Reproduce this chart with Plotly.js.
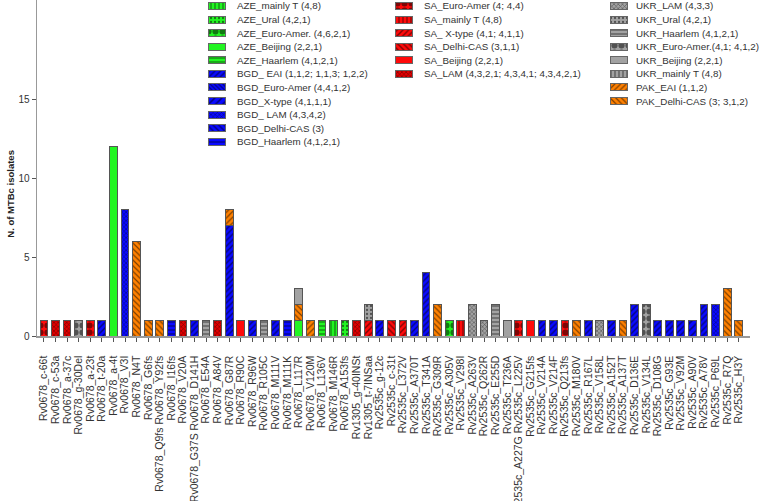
<!DOCTYPE html>
<html><head><meta charset="utf-8">
<script src="https://cdn.plot.ly/plotly-3.0.1.min.js"></script>
<style>html,body{margin:0;padding:0;background:#fff}#chart{width:760px;height:501px}</style>
</head><body><div id="chart"></div>
<script>
// ---------------- DATA ----------------
const categories = ["Rv0678_c-66t","Rv0678_c-53a","Rv0678_a-37c","Rv0678_g-30Del","Rv0678_a-23t","Rv0678_t-20a","Rv0678_a-4t","Rv0678_V3I","Rv0678_N4T","Rv0678_G6fs","Rv0678_Q9fs Rv0678_Y92fs","Rv0678_I16fs","Rv0678_V20A","Rv0678_G37S Rv0678_D141H","Rv0678_E54A","Rv0678_A84V","Rv0678_G87R","Rv0678_R90C","Rv0678_R96W","Rv0678_R105C","Rv0678_M111V","Rv0678_M111K","Rv0678_L117R","Rv0678_V120M","Rv0678_L136V","Rv0678_M146R","Rv0678_A153fs","Rv1305_g-40INSt","Rv1305_t-7INSaa","Rv2535c_g-12c","Rv2535c_c-31t","Rv2535c_L372V","Rv2535c_A370T","Rv2535c_T341A","Rv2535c_G309R","Rv2535c_A305V","Rv2535c_V298I","Rv2535c_A263V","Rv2535c_Q262R","Rv2535c_E255D","Rv2535c_T236A","Rv2535c_A227G Rv2535c_L225V","Rv2535c_G215fs","Rv2535c_V214A","Rv2535c_V214F","Rv2535c_Q213fs","Rv2535c_M180V","Rv2535c_R167L","Rv2535c_V158L","Rv2535c_A152T","Rv2535c_A137T","Rv2535c_D136E","Rv2535c_V134L","Rv2535c_D108G","Rv2535c_G93E","Rv2535c_V92M","Rv2535c_A90V","Rv2535c_A78V","Rv2535c_P69L","Rv2535c_R7Q","Rv2535c_H3Y"];

// mutation effect marker under each category: v = green down, ^ = red up, s = yellow square, "" = none
const markerType = ["","v","","","","v","v","v","v","^","^","v","v","v","","v","v","v","s","","v","s","v","v","v","v","v","","","v","v","v","v","v","v","v","","","","","v","","","v","v","","v","v","","v","","v","","v","v","v","v","v","v","v","v"];

const AZE_mainlyT_x = ["Rv0678_M146R"];  const AZE_mainlyT_y = [1];
const AZE_Ural_x = ["Rv0678_A153fs"];    const AZE_Ural_y = [1];
const AZE_EuroAmer_x = ["Rv2535c_A305V"]; const AZE_EuroAmer_y = [1];
const AZE_Beijing_x = ["Rv0678_a-4t","Rv0678_L117R"]; const AZE_Beijing_y = [12,1];
const AZE_Haarlem_x = ["Rv0678_L136V"];  const AZE_Haarlem_y = [1];

const BGD_EAI_x = ["Rv0678_t-20a","Rv0678_G37S Rv0678_D141H","Rv0678_G87R","Rv0678_R96W","Rv0678_M111V","Rv2535c_g-12c","Rv2535c_A370T","Rv2535c_T341A","Rv2535c_V214A","Rv2535c_V214F","Rv2535c_R167L","Rv2535c_A152T","Rv2535c_D136E","Rv2535c_D108G","Rv2535c_G93E","Rv2535c_V92M","Rv2535c_A78V"];
const BGD_EAI_y = [1,1,7,1,1,1,1,4,1,1,1,1,2,1,1,1,2];
const BGD_EuroAmer_x = [];               const BGD_EuroAmer_y = [];
const BGD_Xtype_x = ["Rv2535c_A90V"];    const BGD_Xtype_y = [1];
const BGD_LAM_x = ["Rv0678_V3I","Rv2535c_P69L"]; const BGD_LAM_y = [8,2];
const BGD_DelhiCAS_x = [];               const BGD_DelhiCAS_y = [];
const BGD_Haarlem_x = ["Rv0678_I16fs","Rv0678_M111K"]; const BGD_Haarlem_y = [1,1];

const SA_EuroAmer_x = ["Rv0678_c-66t","Rv0678_a-23t","Rv2535c_A227G Rv2535c_L225V","Rv2535c_Q213fs"]; const SA_EuroAmer_y = [1,1,1,1];
const SA_mainlyT_x = ["Rv2535c_V298I"];  const SA_mainlyT_y = [1];
const SA_Xtype_x = ["Rv1305_t-7INSaa","Rv2535c_L372V"]; const SA_Xtype_y = [1,1];
const SA_DelhiCAS_x = ["Rv2535c_c-31t"]; const SA_DelhiCAS_y = [1];
const SA_Beijing_x = ["Rv0678_R90C","Rv2535c_G215fs"]; const SA_Beijing_y = [1,1];
const SA_LAM_x = ["Rv0678_c-53a","Rv0678_a-37c","Rv0678_V20A","Rv0678_A84V","Rv1305_g-40INSt"]; const SA_LAM_y = [1,1,1,1,1];

const PAK_EAI_x = ["Rv0678_G87R","Rv0678_V120M"]; const PAK_EAI_y = [1,1];
const PAK_DelhiCAS_x = ["Rv0678_N4T","Rv0678_G6fs","Rv0678_Q9fs Rv0678_Y92fs","Rv0678_L117R","Rv2535c_G309R","Rv2535c_M180V","Rv2535c_A137T","Rv2535c_R7Q","Rv2535c_H3Y"];
const PAK_DelhiCAS_y = [6,1,1,1,2,1,1,3,1];

const UKR_LAM_x = ["Rv2535c_A263V","Rv2535c_Q262R","Rv2535c_V158L"]; const UKR_LAM_y = [2,1,1];
const UKR_Ural_x = ["Rv1305_t-7INSaa"];  const UKR_Ural_y = [1];
const UKR_Haarlem_x = ["Rv0678_E54A","Rv0678_R105C","Rv2535c_E255D"]; const UKR_Haarlem_y = [1,1,2];
const UKR_EuroAmer_x = ["Rv0678_g-30Del","Rv2535c_V134L"]; const UKR_EuroAmer_y = [1,2];
const UKR_Beijing_x = ["Rv0678_L117R","Rv2535c_T236A"]; const UKR_Beijing_y = [1,1];
const UKR_mainlyT_x = [];                const UKR_mainlyT_y = [];

// ---------------- STYLE ----------------
const GREEN = '#22f522', BLUE = '#0a0aff', RED = '#ff0a0a', GRAY = '#a2a2a2', ORANGE = '#ff8000';
const series = [
  {name:'AZE_mainly T (4,8)', x:AZE_mainlyT_x, y:AZE_mainlyT_y, c:GREEN, p:['|',4,0.3]},
  {name:'AZE_Ural (4,2,1)', x:AZE_Ural_x, y:AZE_Ural_y, c:GREEN, p:['.',4,0.25]},
  {name:'AZE_Euro-Amer. (4,6,2,1)', x:AZE_EuroAmer_x, y:AZE_EuroAmer_y, c:GREEN, p:['.',7,0.6]},
  {name:'AZE_Beijing (2,2,1)', x:AZE_Beijing_x, y:AZE_Beijing_y, c:GREEN, p:['',8,0.3]},
  {name:'AZE_Haarlem (4,1,2,1)', x:AZE_Haarlem_x, y:AZE_Haarlem_y, c:GREEN, p:['-',4,0.3]},
  {name:'BGD_ EAI (1,1,2; 1,1,3; 1,2,2)', x:BGD_EAI_x, y:BGD_EAI_y, c:BLUE, p:['/',4,0.35]},
  {name:'BGD_Euro-Amer (4,4,1,2)', x:BGD_EuroAmer_x, y:BGD_EuroAmer_y, c:BLUE, p:['\\',3,0.4]},
  {name:'BGD_X-type (4,1,1,1)', x:BGD_Xtype_x, y:BGD_Xtype_y, c:BLUE, p:['/',5,0.3]},
  {name:'BGD_ LAM (4,3,4,2)', x:BGD_LAM_x, y:BGD_LAM_y, c:BLUE, p:['x',3,0.35]},
  {name:'BGD_Delhi-CAS (3)', x:BGD_DelhiCAS_x, y:BGD_DelhiCAS_y, c:BLUE, p:['\\',4,0.35]},
  {name:'BGD_Haarlem (4,1,2,1)', x:BGD_Haarlem_x, y:BGD_Haarlem_y, c:BLUE, p:['-',4,0.3]},
  {name:'SA_Euro-Amer (4; 4,4)', x:SA_EuroAmer_x, y:SA_EuroAmer_y, c:RED, p:['.',7,0.6]},
  {name:'SA_mainly T (4,8)', x:SA_mainlyT_x, y:SA_mainlyT_y, c:RED, p:['|',4,0.3]},
  {name:'SA_ X-type (4,1; 4,1,1)', x:SA_Xtype_x, y:SA_Xtype_y, c:RED, p:['/',4,0.35]},
  {name:'SA_Delhi-CAS (3,1,1)', x:SA_DelhiCAS_x, y:SA_DelhiCAS_y, c:RED, p:['\\',4,0.35]},
  {name:'SA_Beijing (2,2,1)', x:SA_Beijing_x, y:SA_Beijing_y, c:RED, p:['',8,0.3]},
  {name:'SA_LAM (4,3,2,1; 4,3,4,1; 4,3,4,2,1)', x:SA_LAM_x, y:SA_LAM_y, c:'#e00000', p:['x',3,0.35]},
  {name:'PAK_EAI (1,1,2)', x:PAK_EAI_x, y:PAK_EAI_y, c:ORANGE, p:['/',4,0.3]},
  {name:'PAK_Delhi-CAS (3; 3,1,2)', x:PAK_DelhiCAS_x, y:PAK_DelhiCAS_y, c:ORANGE, p:['\\',4,0.3]},
  {name:'UKR_LAM (4,3,3)', x:UKR_LAM_x, y:UKR_LAM_y, c:GRAY, p:['x',3,0.35]},
  {name:'UKR_Ural (4,2,1)', x:UKR_Ural_x, y:UKR_Ural_y, c:GRAY, p:['.',4,0.25]},
  {name:'UKR_Haarlem (4,1,2,1)', x:UKR_Haarlem_x, y:UKR_Haarlem_y, c:GRAY, p:['-',4,0.3]},
  {name:'UKR_Euro-Amer.(4,1; 4,1,2)', x:UKR_EuroAmer_x, y:UKR_EuroAmer_y, c:GRAY, p:['.',7,0.6]},
  {name:'UKR_Beijing (2,2,1)', x:UKR_Beijing_x, y:UKR_Beijing_y, c:GRAY, p:['',8,0.3]},
  {name:'UKR_mainly T (4,8)', x:UKR_mainlyT_x, y:UKR_mainlyT_y, c:GRAY, p:['|',4,0.3]}
];
// legend order inside each column
const legendOrder = [
  ['AZE_mainly T (4,8)','AZE_Ural (4,2,1)','AZE_Euro-Amer. (4,6,2,1)','AZE_Beijing (2,2,1)','AZE_Haarlem (4,1,2,1)','BGD_ EAI (1,1,2; 1,1,3; 1,2,2)','BGD_Euro-Amer (4,4,1,2)','BGD_X-type (4,1,1,1)','BGD_ LAM (4,3,4,2)','BGD_Delhi-CAS (3)','BGD_Haarlem (4,1,2,1)'],
  ['SA_Euro-Amer (4; 4,4)','SA_mainly T (4,8)','SA_ X-type (4,1; 4,1,1)','SA_Delhi-CAS (3,1,1)','SA_Beijing (2,2,1)','SA_LAM (4,3,2,1; 4,3,4,1; 4,3,4,2,1)'],
  ['UKR_LAM (4,3,3)','UKR_Ural (4,2,1)','UKR_Haarlem (4,1,2,1)','UKR_Euro-Amer.(4,1; 4,1,2)','UKR_Beijing (2,2,1)','UKR_mainly T (4,8)','PAK_EAI (1,1,2)','PAK_Delhi-CAS (3; 3,1,2)']
];

// ---------------- LAYOUT GEOMETRY (pixels) ----------------
const W = 760, H = 501, ML = 37, MR = 10, MT = 0, MB = 164.5;
const plotL = ML, plotR = W - MR, plotT = MT, plotB = H - MB;
const pxPerUnit = 15.79;
const colSwatchX = [208, 395, 610], colTextX = [235, 422, 634], colRow0 = [6, 6, 6], rowStep = 13.6;
const FONT = 'Arial, "Liberation Sans", sans-serif';

function patternOf(p){
  return {shape:p[0], size:p[1], solidity:p[2], fgcolor:'#000', fillmode:'overlay'};
}

const traces = [];
series.forEach(s => {
  traces.push({
    type:'bar', name:s.name, x:s.x, y:s.y, xaxis:'x', yaxis:'y', showlegend:false,
    marker:{color:s.c, pattern:patternOf(s.p), line:{color:'#555', width:1}},
    hoverinfo:'x+y+name'
  });
});

// mutation markers under axis
const mk = {v:{sym:'triangle-down', c:'#22ee22', sz:8}, '^':{sym:'triangle-up', c:'#ff1010', sz:8}, s:{sym:'square', c:'#ffee00', sz:7}};
Object.keys(mk).forEach(k => {
  const xs = categories.filter((c,i) => markerType[i] === k);
  traces.push({type:'scatter', mode:'markers', x:xs, y:xs.map(()=>-0.6), xaxis:'x', yaxis:'y',
    cliponaxis:false, showlegend:false, hoverinfo:'skip',
    marker:{symbol:mk[k].sym, color:mk[k].c, size:mk[k].sz, line:{width:0}}});
});

// custom legend: swatches drawn as bars on pixel-mapped overlay axes
const annotations = [];
legendOrder.forEach((names, col) => {
  names.forEach((nm, row) => {
    const s = series.find(q => q.name === nm);
    const yc = colRow0[col] + row * rowStep;
    traces.push({type:'bar', orientation:'h', xaxis:'x2', yaxis:'y2', showlegend:false, hoverinfo:'skip',
      y:[yc], x:[17], base:[colSwatchX[col]], width:7, cliponaxis:false,
      marker:{color:s.c, pattern:patternOf(s.p), line:{color:'#666', width:1}}});
    annotations.push({xref:'x2', yref:'y2', x:colTextX[col], y:yc, text:nm, showarrow:false,
      xanchor:'left', yanchor:'middle', font:{family:FONT, size:9.8, color:'#333'}});
  });
});

annotations.push({xref:'paper', yref:'paper', x:(11 - plotL)/(plotR - plotL), y:(plotB - 194)/(plotB - plotT),
  text:'N. of MTBc isolates', textangle:-90, showarrow:false,
  xanchor:'center', yanchor:'middle', font:{family:FONT, size:9.5, color:'#222', weight:'bold'}});

const layout = {
  width:W, height:H, margin:{l:ML, r:MR, t:MT, b:MB, pad:0},
  paper_bgcolor:'#fff', plot_bgcolor:'#fff', barmode:'stack', bargap:0.33,
  showlegend:false,
  font:{family:FONT, color:'#333'},
  xaxis:{type:'category', categoryorder:'array', categoryarray:categories, range:[-0.6, 60.97],
    tickmode:'array', tickvals:categories, ticktext:categories,
    tickangle:-90, ticks:'outside', ticklen:4, tickcolor:'#555', tickwidth:1,
    ticklabelstandoff:10, tickfont:{family:FONT, size:10.5, color:'#333'},
    showline:true, linecolor:'#999', linewidth:1.5, showgrid:false, zeroline:false, fixedrange:true},
  yaxis:{range:[0,(plotB - plotT)/pxPerUnit], tickvals:[0,5,10,15], ticks:'outside', ticklen:4, tickcolor:'#555',
    tickfont:{family:FONT, size:10, color:'#333'}, showline:true, linecolor:'#999', linewidth:1.5,
    showgrid:false, zeroline:false, fixedrange:true},
  xaxis2:{overlaying:'x', range:[plotL, plotR], visible:false, fixedrange:true},
  yaxis2:{overlaying:'y', range:[plotB, plotT], visible:false, fixedrange:true},
  annotations:annotations
};

Plotly.newPlot('chart', traces, layout, {displayModeBar:false, staticPlot:true});
</script>
</body></html>
